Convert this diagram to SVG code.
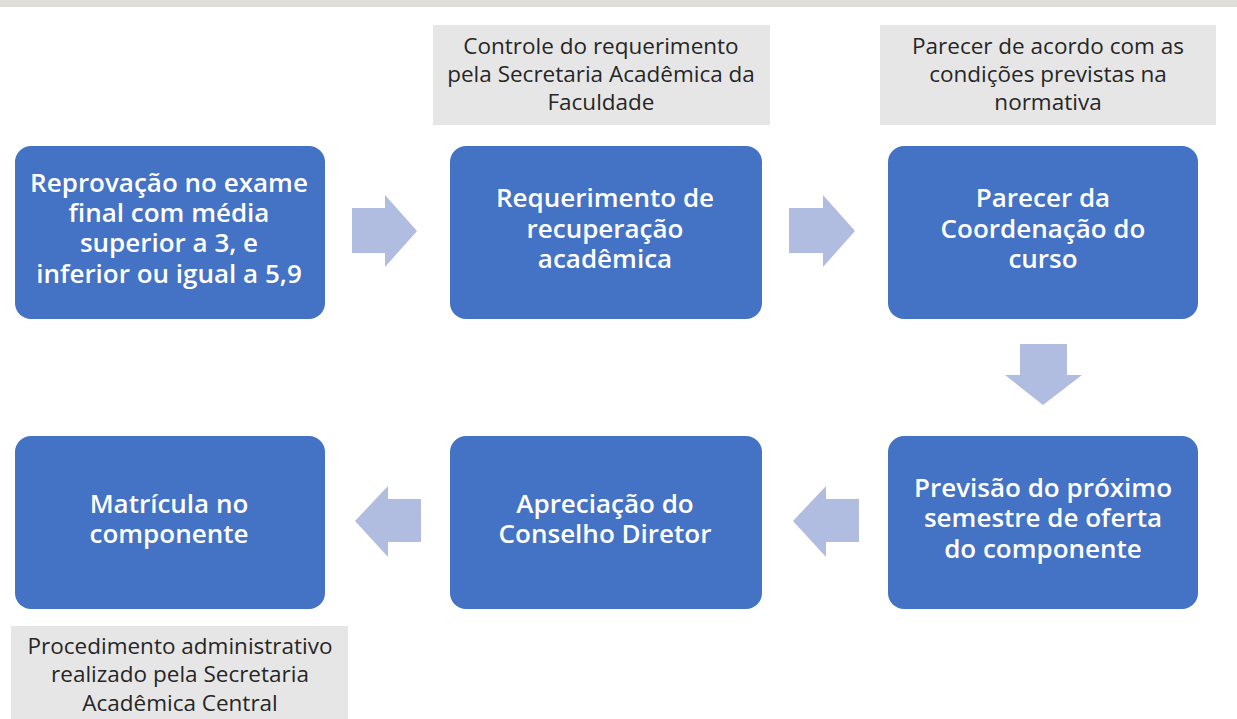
<svg xmlns="http://www.w3.org/2000/svg" width="1237" height="719" viewBox="0 0 1237 719">
<style>
.box{fill:#4472c4;}
.bt{font-family:"Open Sans","Liberation Sans",sans-serif;font-size:26px;font-weight:600;fill:#ffffff;text-anchor:middle;}
.note{fill:#e7e6e6;}
.nt{font-family:"Open Sans","Liberation Sans",sans-serif;font-size:22.5px;fill:#262626;text-anchor:middle;}
.arr{fill:#b0bde0;}
</style>
<rect x="0" y="0" width="1237" height="719" fill="#ffffff"/>
<rect x="0" y="0" width="1237" height="7" fill="#e1ddd8"/>

<g id="note1">
<rect class="note" x="433" y="25" width="337" height="100"/>
<text class="nt" x="601" y="54">Controle do requerimento</text>
<text class="nt" x="601" y="82">pela Secretaria Acadêmica da</text>
<text class="nt" x="601" y="110">Faculdade</text>
</g>
<g id="note2">
<rect class="note" x="880" y="25" width="336" height="100"/>
<text class="nt" x="1048" y="54">Parecer de acordo com as</text>
<text class="nt" x="1048" y="82">condições previstas na</text>
<text class="nt" x="1048" y="110">normativa</text>
</g>
<g id="note3">
<rect class="note" x="11" y="626" width="337" height="93"/>
<text class="nt" x="180" y="654">Procedimento administrativo</text>
<text class="nt" x="180" y="682">realizado pela Secretaria</text>
<text class="nt" x="180" y="711">Acadêmica Central</text>
</g>

<g id="n1">
<rect class="box" x="15" y="146" width="310" height="173" rx="16"/>
<text class="bt" x="169" y="192">Reprovação no exame</text>
<text class="bt" x="169" y="222">final com média</text>
<text class="bt" x="169" y="252">superior a 3, e</text>
<text class="bt" x="169" y="283">inferior ou igual a 5,9</text>
</g>
<g id="n2">
<rect class="box" x="450" y="146" width="312" height="173" rx="16"/>
<text class="bt" x="605" y="207">Requerimento de</text>
<text class="bt" x="605" y="238">recuperação</text>
<text class="bt" x="605" y="268">acadêmica</text>
</g>
<g id="n3">
<rect class="box" x="888" y="146" width="310" height="173" rx="16"/>
<text class="bt" x="1043" y="207">Parecer da</text>
<text class="bt" x="1043" y="238">Coordenação do</text>
<text class="bt" x="1043" y="268">curso</text>
</g>
<g id="n4">
<rect class="box" x="888" y="436" width="310" height="173" rx="16"/>
<text class="bt" x="1043" y="497">Previsão do próximo</text>
<text class="bt" x="1043" y="527">semestre de oferta</text>
<text class="bt" x="1043" y="558">do componente</text>
</g>
<g id="n5">
<rect class="box" x="450" y="436" width="312" height="173" rx="16"/>
<text class="bt" x="605" y="513">Apreciação do</text>
<text class="bt" x="605" y="543">Conselho Diretor</text>
</g>
<g id="n6">
<rect class="box" x="15" y="436" width="310" height="173" rx="16"/>
<text class="bt" x="169" y="513">Matrícula no</text>
<text class="bt" x="169" y="543">componente</text>
</g>

<g id="connectors">
<polygon class="arr" points="352,208 385,208 385,195 417,231 385,267 385,253 352,253"/>
<polygon class="arr" points="789,208 823,208 823,195 855,231 823,267 823,253 789,253"/>
<polygon class="arr" points="1020,344 1067,344 1067,375 1082,375 1043,405 1005,375 1020,375"/>
<polygon class="arr" points="859,499 826,499 826,486 793,521 826,557 826,542 859,542"/>
<polygon class="arr" points="421,499 388,499 388,486 355,521 388,557 388,542 421,542"/>
</g>
</svg>
